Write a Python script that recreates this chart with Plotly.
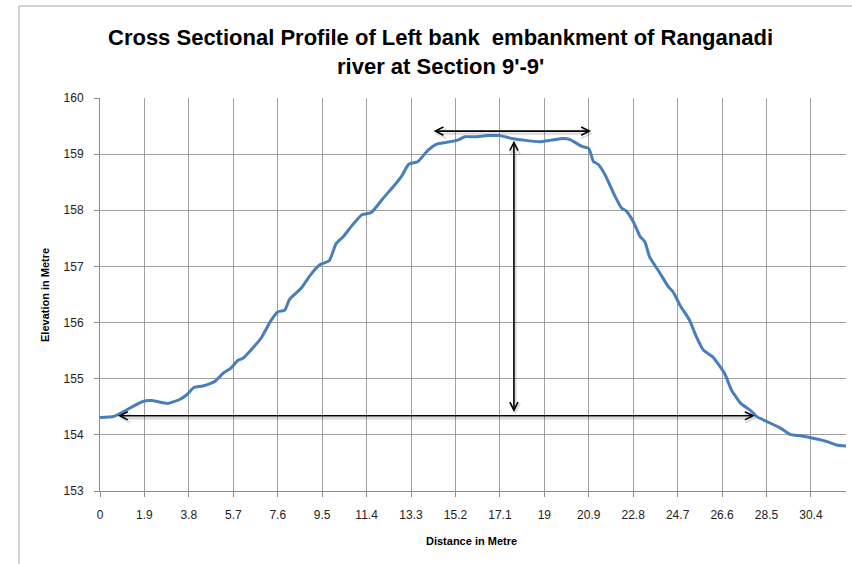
import plotly.graph_objects as go

# Surveyed cross-section of the left bank embankment (distance in m, elevation in m)
distance = [0.0, 0.6, 1.8, 2.2, 2.9, 3.4, 3.7, 4.0, 4.4, 4.9,
            5.3, 5.6, 5.9, 6.1, 6.6, 6.9, 7.3, 7.6, 7.9, 8.1,
            8.6, 9.0, 9.4, 9.8, 10.1, 10.4, 10.8, 11.2, 11.6, 12.1,
            12.6, 12.9, 13.2, 13.6, 14.0, 14.4, 14.8, 15.3, 15.6, 16.0,
            16.6, 17.1, 17.6, 18.1, 18.8, 19.3, 19.8, 20.1, 20.6, 20.9,
            21.1, 21.3, 21.6, 22.0, 22.3, 22.5, 22.8, 23.1, 23.3, 23.5,
            23.9, 24.3, 24.5, 24.8, 25.2, 25.5, 25.8, 26.2, 26.7, 27.0,
            27.4, 27.8, 28.1, 28.5, 29.1, 29.5, 30.0, 30.5, 31.1, 31.5,
            31.9]
elevation = [154.31, 154.33, 154.59, 154.61, 154.56, 154.63, 154.71, 154.84, 154.87, 154.95,
             155.11, 155.19, 155.33, 155.36, 155.58, 155.73, 156.03, 156.19, 156.22, 156.41,
             156.61, 156.85, 157.03, 157.10, 157.41, 157.53, 157.74, 157.92, 157.96, 158.21,
             158.45, 158.61, 158.82, 158.87, 159.06, 159.18, 159.21, 159.25, 159.31, 159.31,
             159.33, 159.33, 159.28, 159.25, 159.22, 159.25, 159.28, 159.26, 159.14, 159.10,
             158.87, 158.82, 158.63, 158.27, 158.04, 157.99, 157.80, 157.53, 157.44, 157.17,
             156.91, 156.64, 156.55, 156.31, 156.05, 155.75, 155.51, 155.39, 155.10, 154.80,
             154.56, 154.44, 154.32, 154.24, 154.12, 154.01, 153.98, 153.94, 153.88, 153.82,
             153.80]

x_labels = ["0", "1.9", "3.8", "5.7", "7.6", "9.5", "11.4", "13.3", "15.2",
            "17.1", "19", "20.9", "22.8", "24.7", "26.6", "28.5", "30.4"]
x_ticks = [float(s) for s in x_labels]

# Dimension arrows: top width, base width, height
top_width = (14.2, 21.0, 159.41)
base_width = (0.7, 28.0, 154.34)
height_line = (17.7, 154.38, 159.24)

AX = "#8c8c8c"
FONT = "Liberation Sans"

fig = go.Figure()
fig.add_trace(go.Scatter(
    x=distance, y=elevation, mode="lines",
    line=dict(color="#4a7ebb", width=3, shape="spline", smoothing=0.5),
    hoverinfo="x+y", showlegend=False,
))


def dim_arrow(x0, y0, x1, y1):
    # soft shadow under the arrow
    fig.add_annotation(
        x=x1, y=y1, ax=x0, ay=y0, xref="x", yref="y", axref="x", ayref="y",
        text="", showarrow=True, arrowhead=5, startarrowhead=5, arrowside="end+start",
        arrowwidth=2.4, arrowsize=0.75, startarrowsize=0.75,
        arrowcolor="rgba(0,0,0,0.14)", xshift=1.5, yshift=-2.5, standoff=0, startstandoff=0,
    )
    fig.add_annotation(
        x=x1, y=y1, ax=x0, ay=y0, xref="x", yref="y", axref="x", ayref="y",
        text="", showarrow=True, arrowhead=5, startarrowhead=5, arrowside="end+start",
        arrowwidth=1.6, arrowsize=1.0, startarrowsize=1.0,
        arrowcolor="#000000", standoff=0, startstandoff=0,
    )


dim_arrow(top_width[0], top_width[2], top_width[1], top_width[2])
dim_arrow(base_width[0], base_width[2], base_width[1], base_width[2])
dim_arrow(height_line[0], height_line[1], height_line[0], height_line[2])

# chart-area frame
fig.add_shape(type="rect", xref="paper", yref="paper",
              x0=(19 - 100) / 746, x1=1.03, y0=-0.25, y1=(491 - 6) / 393,
              line=dict(color="#a6a6a6", width=1), fillcolor="rgba(0,0,0,0)", layer="below")

fig.add_annotation(
    text="<b>Cross Sectional Profile of Left bank  embankment of Ranganadi</b>",
    xref="paper", yref="paper", x=(440 - 100) / 746, y=(491 - 37) / 393,
    showarrow=False, font=dict(family=FONT, size=22, color="#000000"),
    xanchor="center", yanchor="middle",
)
fig.add_annotation(
    text="<b>river at Section 9'-9'</b>",
    xref="paper", yref="paper", x=(440 - 100) / 746, y=(491 - 67) / 393,
    showarrow=False, font=dict(family=FONT, size=22, color="#000000"),
    xanchor="center", yanchor="middle",
)
fig.add_annotation(
    text="<b>Elevation in Metre</b>", textangle=-90,
    xref="paper", yref="paper", x=(45 - 100) / 746, y=(491 - 295) / 393,
    showarrow=False, font=dict(family=FONT, size=11, color="#000000"),
    xanchor="center", yanchor="middle",
)
fig.add_annotation(
    text="<b>Distance in Metre</b>",
    xref="paper", yref="paper", x=(471 - 100) / 746, y=(491 - 541) / 393,
    showarrow=False, font=dict(family=FONT, size=11, color="#000000"),
    xanchor="center", yanchor="middle",
)

fig.update_layout(
    width=852, height=564,
    margin=dict(l=100, r=6, t=98, b=73),
    paper_bgcolor="white", plot_bgcolor="white",
    font=dict(family=FONT, size=12, color="#222222"),
    showlegend=False,
)
fig.update_xaxes(
    range=[0, 31.9], tickvals=x_ticks, ticktext=x_labels,
    showgrid=True, gridcolor="#a0a0a0", gridwidth=1,
    showline=True, linecolor=AX, linewidth=1,
    ticks="outside", ticklen=5, tickcolor=AX, ticklabelstandoff=8,
    zeroline=False, fixedrange=True,
)
fig.update_yaxes(
    range=[153, 160], dtick=1, tick0=153,
    showgrid=True, gridcolor="#a0a0a0", gridwidth=1,
    showline=True, linecolor=AX, linewidth=1,
    ticks="outside", ticklen=5, tickcolor=AX, ticklabelstandoff=8,
    zeroline=False, fixedrange=True,
)

fig.write_html("out.html")
